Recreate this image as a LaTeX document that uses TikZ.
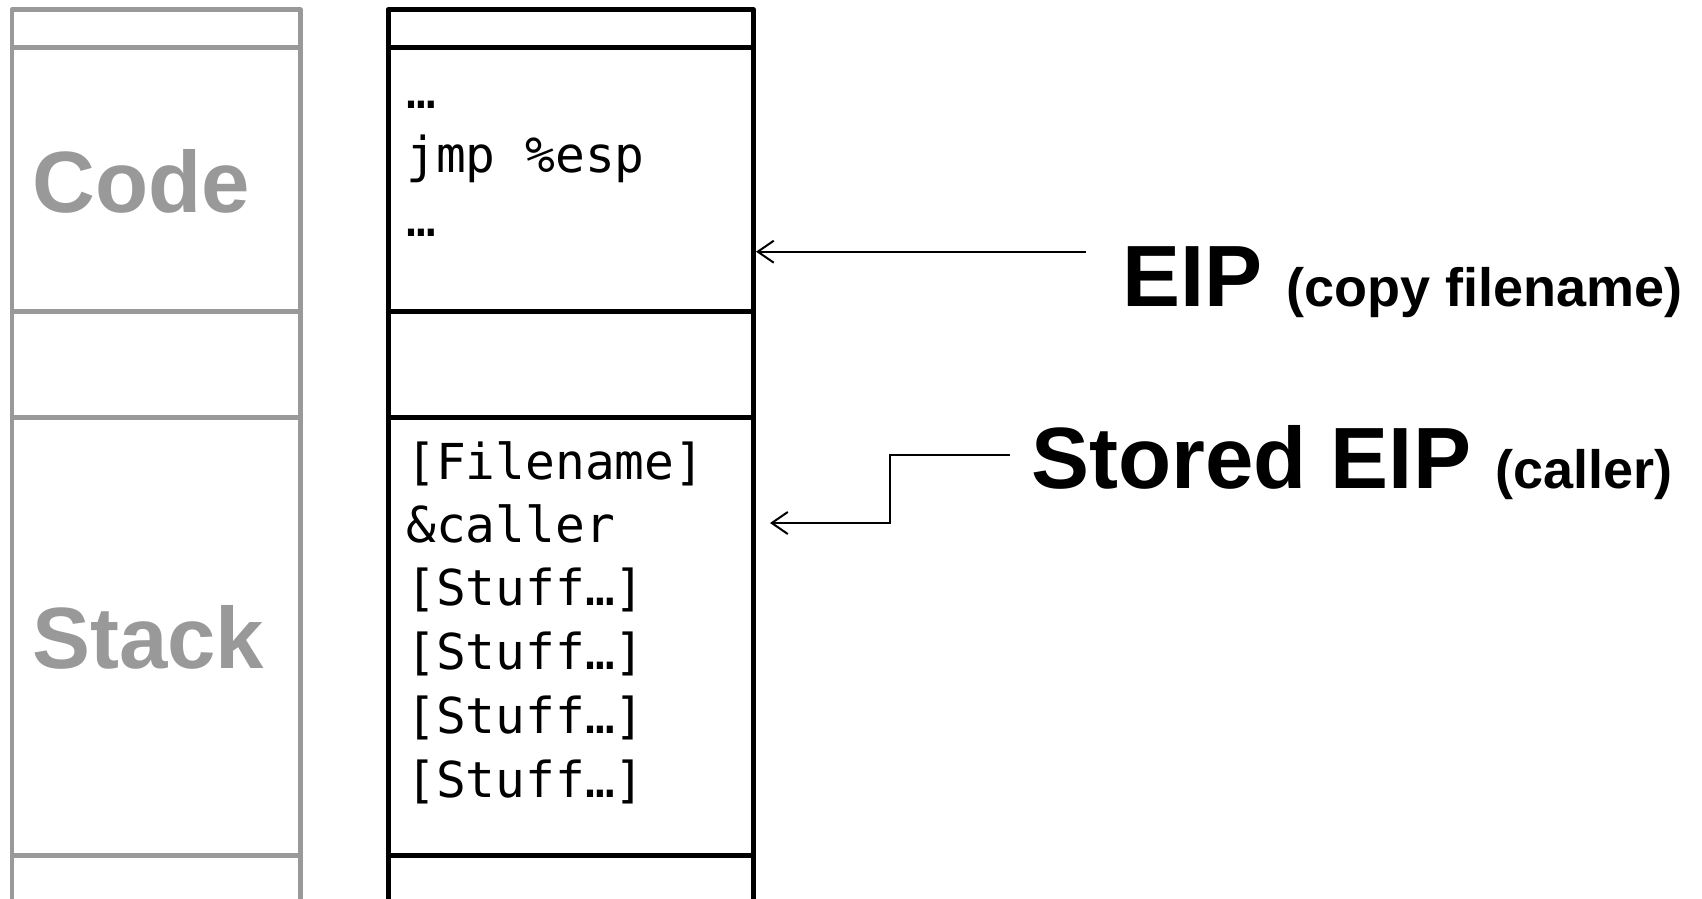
\documentclass[tikz,border=0pt]{standalone}
\usepackage{fontspec}
\setmainfont{Liberation Sans}
\newfontfamily\monofont{DejaVu Sans Mono}
\usetikzlibrary{arrows.meta,calc}
\definecolor{memgray}{HTML}{999999}
\begin{document}
\begin{tikzpicture}[x=1pt,y=-1pt,
  cell/.style={rectangle, inner sep=0pt, outer sep=0pt, anchor=north west, line join=round},
  graycell/.style={cell, draw=memgray, line width=4.5pt, minimum width=288.5pt},
  blackcell/.style={cell, draw=black, line width=5pt, minimum width=365.5pt},
  biglabel/.style={font=\fontsize{87}{87}\selectfont\bfseries, anchor=base west, inner sep=0pt},
  codetext/.style={font=\monofont\fontsize{49.5}{49.5}\selectfont, anchor=base west, inner sep=0pt},
  pointer/.style={line width=2pt, line join=miter, -{Straight Barb[length=16pt,width=22pt,line width=2pt]}}
]
\useasboundingbox (0,0) rectangle (1702,898);
% gray (left) column
\node[graycell, minimum height=37.8pt]  (gtop)   at (12,9.7)   {};
\node[graycell, minimum height=264.1pt] (gcode)  at (12,47.5)  {};
\node[graycell, minimum height=105.9pt] (ggap)   at (12,311.6) {};
\node[graycell, minimum height=438pt]   (gstack) at (12,417.5) {};
\node[graycell, minimum height=80pt]    (gbot)   at (12,855.5) {};
% black (right) column
\node[blackcell, minimum height=37.8pt]  (btop)   at (388,9.7)   {};
\node[blackcell, minimum height=264.1pt] (bcode)  at (388,47.5)  {};
\node[blackcell, minimum height=105.9pt] (bgap)   at (388,311.6) {};
\node[blackcell, minimum height=438pt]   (bstack) at (388,417.5) {};
\node[blackcell, minimum height=80pt]    (bbot)   at (388,855.5) {};
% region labels
\node[biglabel, text=memgray] (codelbl)  at (32,212) {Code};
\node[biglabel, text=memgray] (stacklbl) at (32,668) {Stack};
% code contents
\node[codetext] (c1) at (406,108) {…};
\node[codetext] (c2) at (406,172) {jmp \%esp};
\node[codetext] (c3) at (406,236) {…};
% stack contents
\node[codetext] (s1) at (406,479) {[Filename]};
\node[codetext] (s2) at (406,542) {\&caller};
\node[codetext] (s3) at (406,605) {[Stuff…]};
\node[codetext] (s4) at (406,669) {[Stuff…]};
\node[codetext] (s5) at (406,733) {[Stuff…]};
\node[codetext] (s6) at (406,797) {[Stuff…]};
% pointer labels
\node[biglabel] (eiplbl) at (1122,306) {EIP {\fontsize{54}{54}\selectfont (copy filename)}};
\node[biglabel] (storedlbl) at (1031,488) {Stored EIP {\fontsize{54}{54}\selectfont (caller)}};
% connectors
\coordinate (eipfrom) at (1086,251.7);
\draw[pointer] (eipfrom) -- ([xshift=2.5pt]bcode.east |- eipfrom);
\coordinate (storedfrom) at (1010,455);
\coordinate (storedto) at (770,523);
\draw[pointer] (storedfrom) -| ($(storedfrom)!0.5!(storedto)$) |- (storedto);
\end{tikzpicture}
\end{document}
